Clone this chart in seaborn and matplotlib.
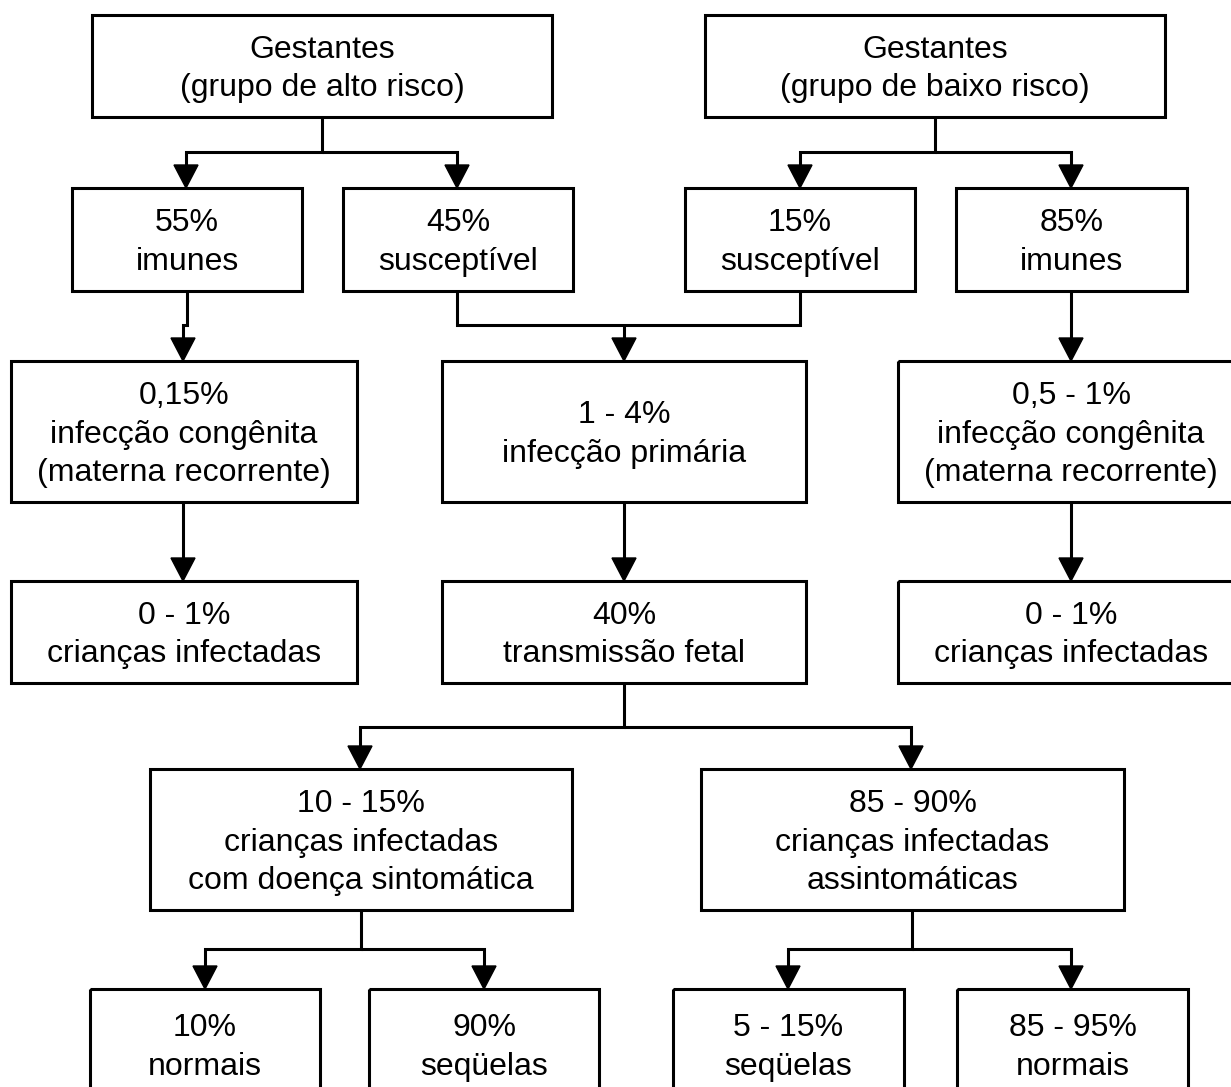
import seaborn as sns
import matplotlib.pyplot as plt
from matplotlib.patches import Rectangle, Polygon

# box labels
labels = {
    "alto": "Gestantes\n(grupo de alto risco)",
    "baixo": "Gestantes\n(grupo de baixo risco)",
    "imunes_a": "55%\nimunes",
    "susc_a": "45%\nsusceptível",
    "susc_b": "15%\nsusceptível",
    "imunes_b": "85%\nimunes",
    "cong_a": "0,15%\ninfecção congênita\n(materna recorrente)",
    "prim": "1 - 4%\ninfecção primária",
    "cong_b": "0,5 - 1%\ninfecção congênita\n(materna recorrente)",
    "inf_a": "0 - 1%\ncrianças infectadas",
    "fetal": "40%\ntransmissão fetal",
    "inf_b": "0 - 1%\ncrianças infectadas",
    "sint": "10 - 15%\ncrianças infectadas\ncom doença sintomática",
    "assint": "85 - 90%\ncrianças infectadas\nassintomáticas",
    "norm1": "10%\nnormais",
    "seq1": "90%\nseqüelas",
    "seq2": "5 - 15%\nseqüelas",
    "norm2": "85 - 95%\nnormais",
}

# box geometry in pixels: x0, y0, x1, y1
boxes = {
    "alto": (92, 15, 552, 117),
    "baixo": (705, 15, 1165, 117),
    "imunes_a": (72, 188, 302, 291),
    "susc_a": (343, 188, 573, 291),
    "susc_b": (685, 188, 915, 291),
    "imunes_b": (956, 188, 1187, 291),
    "cong_a": (11, 361, 357, 502),
    "prim": (442, 361, 806, 502),
    "cong_b": (898, 361, 1244, 502),
    "inf_a": (11, 581, 357, 683),
    "fetal": (442, 581, 806, 683),
    "inf_b": (898, 581, 1244, 683),
    "sint": (150, 769, 572, 910),
    "assint": (701, 769, 1124, 910),
    "norm1": (90, 989, 320, 1100),
    "seq1": (369, 989, 599, 1100),
    "seq2": (673, 989, 904, 1100),
    "norm2": (957, 989, 1188, 1100),
}

# connectors: polyline points; last segment ends with an arrow head
connectors = [
    ([(322, 117), (322, 152), (186, 152), (186, 188)], True),
    ([(322, 152), (457, 152), (457, 188)], True),
    ([(935, 117), (935, 152), (800, 152), (800, 188)], True),
    ([(935, 152), (1071, 152), (1071, 188)], True),
    ([(187, 291), (187, 325), (183, 325), (183, 361)], True),
    ([(457, 291), (457, 325), (800, 325), (800, 291)], False),
    ([(624, 325), (624, 361)], True),
    ([(1071, 291), (1071, 361)], True),
    ([(183, 502), (183, 581)], True),
    ([(624, 502), (624, 581)], True),
    ([(1071, 502), (1071, 581)], True),
    ([(624, 683), (624, 727), (360, 727), (360, 769)], True),
    ([(624, 727), (911, 727), (911, 769)], True),
    ([(361, 910), (361, 949), (205, 949), (205, 989)], True),
    ([(361, 949), (484, 949), (484, 989)], True),
    ([(912, 910), (912, 949), (788, 949), (788, 989)], True),
    ([(912, 949), (1071, 949), (1071, 989)], True),
]

sns.set_theme(style="white")
plt.rcParams["font.family"] = ["Liberation Sans", "DejaVu Sans"]

fig = plt.figure(figsize=(12.31, 10.87), dpi=100)
ax = fig.add_axes([0, 0, 1, 1])
ax.set_xlim(0, 1231)
ax.set_ylim(1087, 0)
ax.axis("off")

lw = 2.2
for key, (x0, y0, x1, y1) in boxes.items():
    ax.add_patch(Rectangle((x0, y0), x1 - x0, y1 - y0, fill=False,
                           edgecolor="black", linewidth=lw, zorder=2))
    ax.text((x0 + x1) / 2, (y0 + y1) / 2 + 3, labels[key], ha="center",
            va="center", fontsize=23, linespacing=1.36, color="black")

head_w, head_h = 12, 23
for pts, arrow in connectors:
    xs = [p[0] for p in pts]
    ys = [p[1] for p in pts]
    if arrow:
        ys = ys[:-1] + [ys[-1] - head_h + 2]
    ax.plot(xs, ys, color="black", linewidth=lw, solid_joinstyle="miter",
            zorder=1)
    if arrow:
        tx, ty = pts[-1]
        ax.add_patch(Polygon([(tx - head_w, ty - head_h), (tx + head_w, ty - head_h),
                              (tx, ty)], closed=True, color="black", zorder=3))

plt.savefig("out.png", dpi=100)
